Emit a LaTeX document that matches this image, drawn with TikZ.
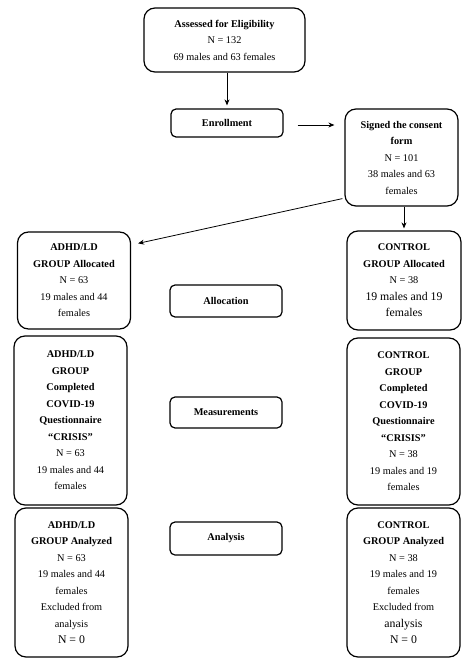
\documentclass[tikz,border=0pt]{standalone}
\usepackage{fontspec}
\setmainfont{Liberation Serif}
\usetikzlibrary{arrows.meta}
\newcommand\fsz{\fontsize{10.3}{16.5}\selectfont}
\newcommand\fbig{\fontsize{11.8}{16.5}\selectfont}
\begin{document}
\begin{tikzpicture}[x=1pt,y=-1pt,
  box/.style={draw, line width=1.2pt, rounded corners=11pt, align=center, inner sep=0pt, font=\fsz},
  sbox/.style={draw, line width=1.2pt, rounded corners=5pt, align=center, inner sep=0pt, font=\fsz\bfseries, minimum width=112pt},
  arr/.style={-{Stealth[length=6pt,width=5pt]}, line width=0.8pt}]
\useasboundingbox (0,0) rectangle (474,668);
\fill[white] (0,0) rectangle (474,668);

\node[box, minimum width=161pt, minimum height=64pt] (top) at (224.5,40)
  {\textbf{Assessed for Eligibility}\\N = 132\\69 males and 63 females};
\node[sbox, minimum height=28pt] (enr) at (227,123) {Enrollment};
\node[box, minimum width=113pt, minimum height=97pt] (sig) at (401.5,157.5)
  {\textbf{Signed the consent}\\\textbf{form}\\N = 101\\38 males and 63\\females};

\node[box, minimum width=113pt, minimum height=97pt] (aal) at (74,280.5)
  {\textbf{ADHD/LD}\\\textbf{GROUP Allocated}\\N = 63\\19 males and 44\\females};
\node[sbox, minimum height=32pt] (allo) at (226,301) {Allocation};
\node[box, minimum width=114pt, minimum height=99pt] (cal) at (404,280.5)
  {\textbf{CONTROL}\\\textbf{GROUP Allocated}\\N = 38\\{\fbig 19 males and 19}\\{\fbig females}};

\node[box, minimum width=113pt, minimum height=169pt] (am) at (70.5,420.5)
  {\textbf{ADHD/LD}\\\textbf{GROUP}\\\textbf{Completed}\\\textbf{COVID-19}\\\textbf{Questionnaire}\\\textbf{“CRISIS”}\\N = 63\\19 males and 44\\females};
\node[sbox, minimum height=31pt] (meas) at (226,412.5) {Measurements};
\node[box, minimum width=113pt, minimum height=167pt] (cm) at (403.5,421.5)
  {\textbf{CONTROL}\\\textbf{GROUP}\\\textbf{Completed}\\\textbf{COVID-19}\\\textbf{Questionnaire}\\\textbf{“CRISIS”}\\N = 38\\19 males and 19\\females};

\node[box, minimum width=113pt, minimum height=149pt] (aan) at (71.5,582.5)
  {\textbf{ADHD/LD}\\\textbf{GROUP Analyzed}\\N = 63\\19 males and 44\\females\\Excluded from\\analysis\\{\fbig N = 0}};
\node[sbox, minimum height=33pt] (ana) at (226,538.5) {Analysis};
\node[box, minimum width=113pt, minimum height=149pt] (can) at (403.5,582.5)
  {\textbf{CONTROL}\\\textbf{GROUP Analyzed}\\N = 38\\19 males and 19\\females\\Excluded from\\{\fbig analysis}\\{\fbig N = 0}};

\draw[arr, shorten >=3pt] (top.south -| enr.north) -- (enr.north);
\draw[arr, shorten <=14pt, shorten >=10pt] ([yshift=-2pt]enr.east) -- ([yshift=-2pt]enr.east -| sig.west);
\draw[arr, shorten >=2pt] (sig.south -| cal.north) -- (cal.north);
\draw[arr] ([shift={(-2,-8)}]sig.south west) -- ([shift={(7,12)}]aal.north east);
\end{tikzpicture}
\end{document}
